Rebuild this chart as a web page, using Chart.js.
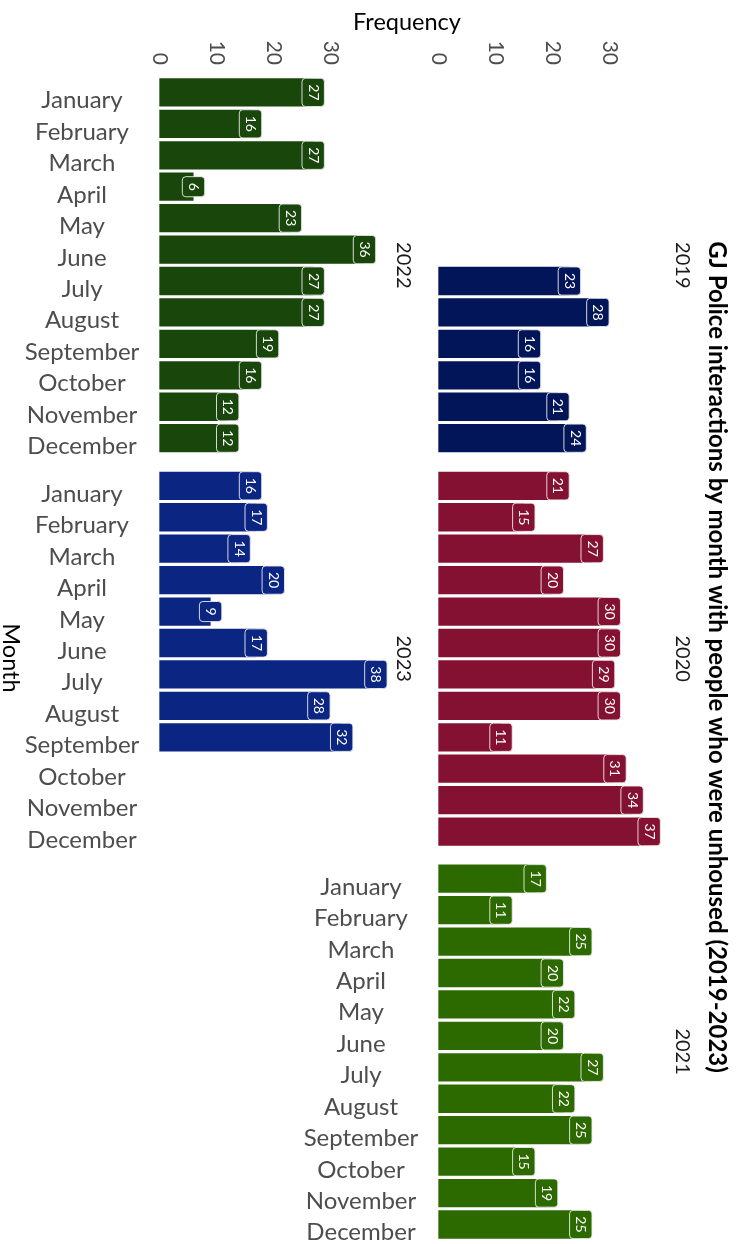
<!DOCTYPE html>
<html>
<head>
<meta charset="utf-8">
<script src="https://cdn.jsdelivr.net/npm/chart.js@4.4.1/dist/chart.umd.min.js"></script>
<style>
  html, body { margin: 0; padding: 0; background: #ffffff; }
  #wrap { position: relative; width: 740px; height: 1244px; overflow: hidden; }
  #wrap canvas { position: absolute; left: 0; top: 0; }
</style>
</head>
<body>
<div id="wrap"></div>
<script>
// Month categories shared by every year panel
const months = ['January', 'February', 'March', 'April', 'May', 'June',
                'July', 'August', 'September', 'October', 'November', 'December'];

// Monthly interaction counts per year (null = no record that month)
const counts2019 = [null, null, null, null, null, null, 23, 28, 16, 16, 21, 24];
const counts2020 = [21, 15, 27, 20, 30, 30, 29, 30, 11, 31, 34, 37];
const counts2021 = [17, 11, 25, 20, 22, 20, 27, 22, 25, 15, 19, 25];
const counts2022 = [27, 16, 27, 6, 23, 36, 27, 27, 19, 16, 12, 12];
const counts2023 = [16, 17, 14, 20, 9, 17, 38, 28, 32, null, null, null];

const years = ['2019', '2020', '2021', '2022', '2023'];
const frequencyTicks = [0, 10, 20, 30];

const titleText = 'GJ Police interactions by month with people who were unhoused (2019-2023)';
const FONT = 'Lato, "Open Sans", sans-serif';
const W = 740, H = 1244;

// Facet grid: panel column / row and fill colour for each year
const panels = [
  { year: years[0], data: counts2019, color: '#021559', col: 1, row: 0, months: false, ticks: true },
  { year: years[1], data: counts2020, color: '#841132', col: 1, row: 1, months: false, ticks: false },
  { year: years[2], data: counts2021, color: '#2c6a00', col: 1, row: 2, months: true,  ticks: false },
  { year: years[3], data: counts2022, color: '#19470b', col: 0, row: 0, months: true,  ticks: true },
  { year: years[4], data: counts2023, color: '#0b2583', col: 0, row: 1, months: true,  ticks: false }
];

const colLeft = [148.5, 427.5];
const panelW = 238.2;
const rowTop = [76.7, 470.1, 863.0];
const panelH = 377.2;

function rotatedText(ctx, text, x, y, align, baseline) {
  ctx.save();
  ctx.translate(x, y);
  ctx.rotate(Math.PI / 2);
  ctx.textAlign = align;
  ctx.textBaseline = baseline;
  ctx.fillText(text, 0, 0);
  ctx.restore();
}

function roundRect(ctx, x, y, w, h, r) {
  ctx.beginPath();
  ctx.moveTo(x + r, y);
  ctx.lineTo(x + w - r, y);
  ctx.quadraticCurveTo(x + w, y, x + w, y + r);
  ctx.lineTo(x + w, y + h - r);
  ctx.quadraticCurveTo(x + w, y + h, x + w - r, y + h);
  ctx.lineTo(x + r, y + h);
  ctx.quadraticCurveTo(x, y + h, x, y + h - r);
  ctx.lineTo(x, y + r);
  ctx.quadraticCurveTo(x, y, x + r, y);
  ctx.closePath();
}

// Draws tick labels, month labels, strip label and value labels of one panel
const facetDecor = {
  id: 'facetDecor',
  afterDatasetsDraw(chart, args, opts) {
    const ctx = chart.ctx;
    const area = chart.chartArea;
    const xs = chart.scales.x;
    const ys = chart.scales.y;
    const meta = chart.getDatasetMeta(0);
    const ds = chart.data.datasets[0];

    // value labels
    ctx.font = '14px ' + FONT;
    meta.data.forEach((bar, i) => {
      const v = ds.data[i];
      if (v === null || v === undefined) return;
      const cx = xs.getPixelForValue(v);
      const cy = bar.y;
      const tw = ctx.measureText(String(v)).width;
      const len = tw + 12;
      const thick = 22.4;
      ctx.save();
      roundRect(ctx, cx - thick / 2, cy - len / 2, thick, len, 3.5);
      ctx.fillStyle = opts.color;
      ctx.fill();
      ctx.lineWidth = 1;
      ctx.strokeStyle = 'rgba(235,235,235,0.9)';
      ctx.stroke();
      ctx.fillStyle = '#ffffff';
      rotatedText(ctx, String(v), cx, cy, 'center', 'middle');
      ctx.restore();
    });

    // frequency tick labels above the top row
    if (opts.ticks) {
      ctx.save();
      ctx.fillStyle = '#4d4d4d';
      ctx.font = '21px ' + FONT;
      frequencyTicks.forEach(t => {
        rotatedText(ctx, String(t), xs.getPixelForValue(t), 65, 'right', 'middle');
      });
      ctx.restore();
    }

    // month labels left of the panel
    if (opts.months) {
      ctx.save();
      ctx.fillStyle = '#4d4d4d';
      ctx.font = '24px ' + FONT;
      ctx.textAlign = 'center';
      ctx.textBaseline = 'alphabetic';
      chart.data.labels.forEach((m, i) => {
        const y = ys.getPixelForValue(i);
        ctx.fillText(m, area.left - 66.5, y + 16);
      });
      ctx.restore();
    }

    // strip label (year) right of the panel
    ctx.save();
    ctx.fillStyle = '#1a1a1a';
    ctx.font = '20px ' + FONT;
    rotatedText(ctx, opts.year, area.right + 16.3, (area.top + area.bottom) / 2, 'center', 'middle');
    ctx.restore();
  }
};

// Overall title and axis titles
const pageTitles = {
  id: 'pageTitles',
  afterDraw(chart) {
    const ctx = chart.ctx;
    ctx.save();
    ctx.fillStyle = '#000000';
    ctx.font = 'bold 24px ' + FONT;
    rotatedText(ctx, titleText, 717, 657, 'center', 'middle');
    ctx.font = '23.5px ' + FONT;
    ctx.textAlign = 'center';
    ctx.textBaseline = 'alphabetic';
    ctx.fillText('Frequency', 407, 30);
    rotatedText(ctx, 'Month', 11, 658, 'center', 'middle');
    ctx.restore();
  }
};

const wrap = document.getElementById('wrap');
panels.forEach((p, idx) => {
  const cv = document.createElement('canvas');
  cv.width = W; cv.height = H;
  cv.style.width = W + 'px'; cv.style.height = H + 'px';
  wrap.appendChild(cv);
  const left = colLeft[p.col];
  const top = rowTop[p.row];
  new Chart(cv, {
    type: 'bar',
    data: {
      labels: months,
      datasets: [{
        data: p.data,
        backgroundColor: p.color,
        borderWidth: 0,
        barPercentage: 0.9,
        categoryPercentage: 1.0
      }]
    },
    options: {
      indexAxis: 'y',
      responsive: false,
      maintainAspectRatio: false,
      devicePixelRatio: 1,
      animation: false,
      events: [],
      layout: {
        padding: { left: left, top: top, right: W - left - panelW, bottom: H - top - panelH }
      },
      scales: {
        x: { type: 'linear', min: -1.9, max: 39.9, display: false },
        y: { type: 'category', display: false, offset: true }
      },
      plugins: {
        legend: { display: false },
        tooltip: { enabled: false },
        title: { display: false },
        facetDecor: { color: p.color, months: p.months, ticks: p.ticks, year: p.year }
      }
    },
    plugins: idx === 0 ? [facetDecor, pageTitles] : [facetDecor]
  });
});
</script>
</body>
</html>
